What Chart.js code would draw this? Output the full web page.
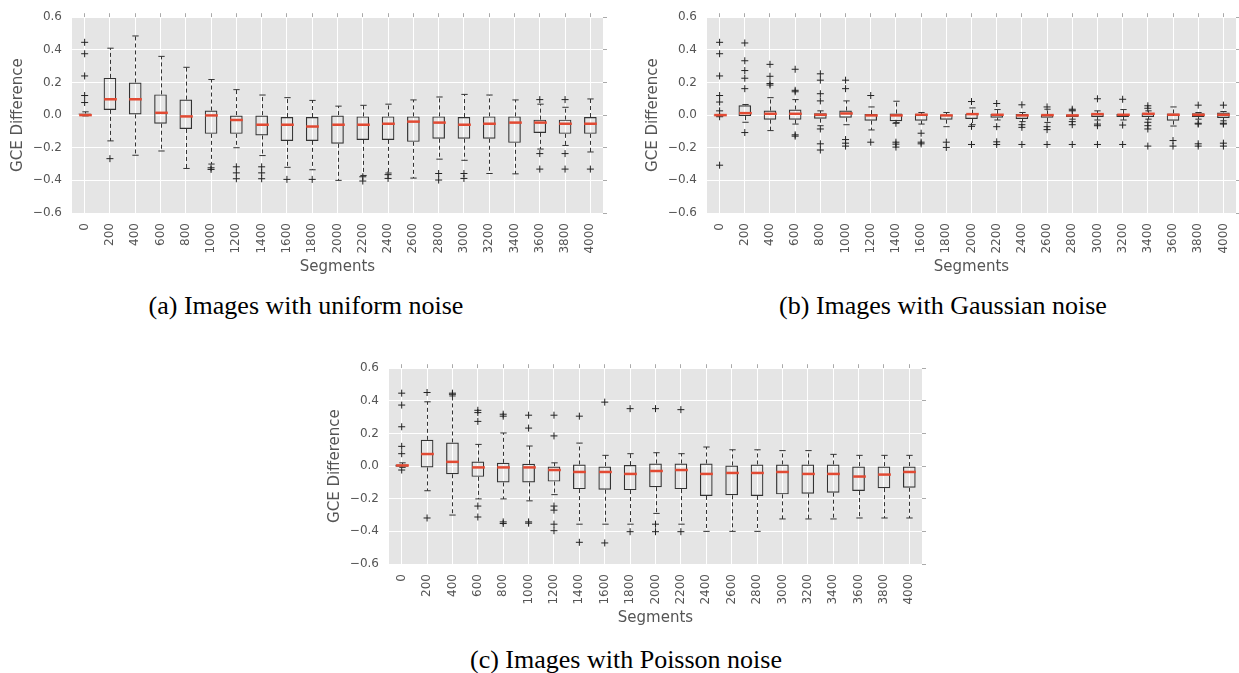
<!DOCTYPE html>
<html>
<head>
<meta charset="utf-8">
<script src="https://cdn.jsdelivr.net/npm/chart.js@4.4.0/dist/chart.umd.min.js"></script>
<style>
  html, body { margin: 0; padding: 0; background: #fff; overflow: hidden; }
  body { width: 1239px; height: 673px; position: relative; }
  canvas { position: absolute; }
  .cap {
    position: absolute;
    font-family: "Liberation Serif", "Times New Roman", serif;
    font-size: 26px;
    line-height: 26px;
    color: #000;
    white-space: nowrap;
    transform: translateX(-50%);
  }
</style>
</head>
<body>
<canvas id="uniform" width="620" height="280" style="left:0px;top:0px"></canvas>
<canvas id="gauss" width="618" height="280" style="left:635px;top:0px"></canvas>
<canvas id="poisson" width="622" height="280" style="left:317px;top:351px"></canvas>
<div class="cap" style="left:306px;top:293px">(a) Images with uniform noise</div>
<div class="cap" style="left:943px;top:293px">(b) Images with Gaussian noise</div>
<div class="cap" style="left:626px;top:647px">(c) Images with Poisson noise</div>
<script>
const segments = ['0','200','400','600','800','1000','1200','1400','1600','1800','2000',
  '2200','2400','2600','2800','3000','3200','3400','3600','3800','4000'];

// (a) uniform noise
const uniformMed = [0.0, 0.097, 0.097, 0.014, -0.008, -0.002, -0.03, -0.059, -0.059, -0.07, -0.059,
  -0.059, -0.053, -0.04, -0.046, -0.059, -0.053, -0.046, -0.046, -0.053, -0.053];
const uniformQ1 = [0.0, 0.032, 0.004, -0.053, -0.085, -0.115, -0.115, -0.125, -0.158, -0.158, -0.176,
  -0.152, -0.152, -0.164, -0.145, -0.145, -0.145, -0.17, -0.109, -0.115, -0.115];
const uniformQ3 = [0.01, 0.228, 0.2, 0.127, 0.095, 0.028, 0.0, 0.0, -0.012, -0.012, 0.0,
  -0.008, -0.008, -0.008, -0.008, -0.012, -0.008, -0.008, -0.028, -0.028, -0.012];
const uniformLo = [-0.005, -0.158, -0.246, -0.22, -0.327, -0.3, -0.2, -0.248, -0.32, -0.335, -0.4,
  -0.37, -0.355, -0.386, -0.27, -0.277, -0.358, -0.36, -0.208, -0.186, -0.226];
const uniformHi = [0.02, 0.41, 0.485, 0.36, 0.293, 0.218, 0.156, 0.123, 0.107, 0.09, 0.055,
  0.06, 0.067, 0.093, 0.111, 0.127, 0.123, 0.093, 0.067, 0.048, 0.099];
const uniformOut = [[0.446, 0.376, 0.24, 0.12, 0.077], [-0.267], [], [], [], [-0.323, -0.333],
  [-0.317, -0.354, -0.39], [-0.317, -0.354, -0.39], [-0.394], [-0.394], [],
  [-0.378, -0.404], [-0.365, -0.388], [], [-0.358, -0.398], [-0.358, -0.388], [], [],
  [0.095, -0.236, -0.331], [0.095, -0.236, -0.331], [-0.331]];

// (b) gaussian noise
const gaussMed = [0.0, 0.012, 0.008, 0.008, 0.002, 0.01, -0.002, -0.002, 0.002, -0.002, 0.006,
  0.002, -0.002, 0.0, -0.002, 0.006, 0.002, 0.008, 0.002, 0.002, 0.002];
const gaussQ1 = [-0.002, -0.006, -0.028, -0.028, -0.022, -0.016, -0.034, -0.038, -0.034, -0.028, -0.024,
  -0.016, -0.024, -0.016, -0.012, -0.012, -0.012, -0.012, -0.034, -0.012, -0.018];
const gaussQ3 = [0.002, 0.06, 0.028, 0.034, 0.012, 0.028, 0.006, 0.01, 0.008, 0.004, 0.008,
  0.006, 0.006, 0.004, 0.004, 0.008, 0.006, 0.012, 0.01, 0.012, 0.016];
const gaussLo = [-0.004, -0.044, -0.095, -0.055, -0.065, -0.059, -0.091, -0.046, -0.055, -0.071, -0.059,
  -0.03, -0.04, -0.045, -0.025, -0.03, -0.03, -0.025, -0.067, -0.025, -0.035];
const gaussHi = [0.004, 0.065, 0.107, 0.095, 0.026, 0.087, 0.05, 0.085, 0.016, 0.016, 0.044,
  0.034, 0.016, 0.036, 0.03, 0.026, 0.034, 0.026, 0.05, 0.016, 0.022];
const gaussOut = [[0.446, 0.376, 0.24, 0.12, 0.08, 0.026, -0.01, -0.307],
  [0.442, 0.333, 0.273, 0.226, 0.162, -0.107], [0.311, 0.238, 0.194, 0.184],
  [0.281, 0.152, 0.143, -0.121, -0.129], [0.253, 0.214, 0.131, 0.087, -0.085, -0.176, -0.214],
  [0.214, 0.162, -0.15, -0.172, -0.19], [0.12, -0.166], [-0.05, -0.166, -0.178, -0.196],
  [-0.111, -0.166, -0.176], [-0.166, -0.198], [0.083, -0.069, -0.18],
  [0.071, -0.071, -0.164, -0.18], [0.063, -0.059, -0.075, -0.18], [0.05, -0.071, -0.089, -0.18],
  [0.036, 0.026, -0.04, -0.059, -0.18], [0.1, -0.055, -0.065, -0.18], [0.097, -0.061, -0.18],
  [0.057, 0.042, -0.044, -0.065, -0.085, -0.19], [-0.156, -0.19],
  [0.061, -0.05, -0.055, -0.176, -0.19], [0.061, -0.05, -0.055, -0.172, -0.19]];

// (c) poisson noise
const poisMed = [0.004, 0.074, 0.026, -0.008, -0.008, -0.008, -0.024, -0.036, -0.036, -0.048, -0.03,
  -0.024, -0.048, -0.042, -0.042, -0.036, -0.048, -0.048, -0.064, -0.052, -0.036];
const poisQ1 = [-0.004, -0.008, -0.05, -0.066, -0.1, -0.1, -0.095, -0.141, -0.145, -0.147, -0.129,
  -0.141, -0.183, -0.179, -0.183, -0.173, -0.169, -0.163, -0.153, -0.135, -0.133];
const poisQ3 = [0.01, 0.161, 0.145, 0.028, 0.02, 0.014, 0.0, 0.01, 0.0, 0.006, 0.016,
  0.016, 0.016, 0.004, 0.01, 0.01, 0.01, 0.01, 0.0, 0.0, 0.0];
const poisLo = [-0.008, -0.151, -0.3, -0.201, -0.201, -0.213, -0.175, -0.356, -0.356, -0.356, -0.29,
  -0.356, -0.4, -0.4, -0.4, -0.324, -0.324, -0.324, -0.318, -0.318, -0.318];
const poisHi = [0.02, 0.394, 0.43, 0.133, 0.203, 0.123, 0.02, 0.141, 0.066, 0.076, 0.082,
  0.076, 0.117, 0.1, 0.1, 0.095, 0.095, 0.072, 0.066, 0.066, 0.066];
const poisOut = [[0.447, 0.374, 0.241, 0.121, 0.076, -0.024], [0.451, -0.318], [0.44, 0.447],
  [0.342, 0.328, 0.274, -0.245, -0.312], [0.318, 0.306, -0.342, -0.352],
  [0.312, 0.233, -0.342, -0.35], [0.312, 0.185, -0.245, -0.27, -0.356, -0.396],
  [0.306, -0.467], [0.392, -0.471], [0.352, -0.402], [0.352, -0.356, -0.402], [0.346, -0.402],
  [], [], [], [], [], [], [], [], []];

Chart.defaults.font.family = '"DejaVu Sans", sans-serif';
Chart.defaults.color = '#555';

function fmt(v) {
  if (Math.abs(v) < 1e-9) return '0.0';
  const s = Math.abs(v).toFixed(1);
  return v < 0 ? '\u2212' + s : s;
}

// gray panel behind the grid
const panelBg = {
  id: 'panelBg',
  beforeDraw(chart) {
    const a = chart.chartArea, ctx = chart.ctx;
    ctx.save();
    ctx.fillStyle = '#E5E5E5';
    ctx.fillRect(a.left, a.top, a.right - a.left, a.bottom - a.top);
    ctx.restore();
  }
};

function makePanel(id, med, q1, q3, lo, hi, out) {
  const outliers = [];
  out.forEach((vals, i) => vals.forEach(v => outliers.push({x: segments[i], y: v})));

  // whiskers, caps and red medians, placed with the chart's scales
  const whiskers = {
    id: 'whiskers',
    afterDatasetsDraw(chart) {
      const ctx = chart.ctx, xs = chart.scales.x, ys = chart.scales.y;
      const bars = chart.getDatasetMeta(0).data;
      ctx.save();
      segments.forEach((s, i) => {
        const x = Math.round(xs.getPixelForValue(i)) + 0.5;
        const half = bars[i].width / 2;
        const yq1 = ys.getPixelForValue(q1[i]), yq3 = ys.getPixelForValue(q3[i]);
        const ylo = ys.getPixelForValue(lo[i]), yhi = ys.getPixelForValue(hi[i]);
        ctx.strokeStyle = '#333';
        ctx.lineWidth = 1;
        ctx.setLineDash([4, 3]);
        ctx.beginPath();
        ctx.moveTo(x, yq3); ctx.lineTo(x, yhi);
        ctx.moveTo(x, yq1); ctx.lineTo(x, ylo);
        ctx.stroke();
        ctx.setLineDash([]);
        ctx.beginPath();
        ctx.moveTo(x - half / 2, yhi); ctx.lineTo(x + half / 2, yhi);
        ctx.moveTo(x - half / 2, ylo); ctx.lineTo(x + half / 2, ylo);
        ctx.stroke();
        const ym = ys.getPixelForValue(med[i]);
        ctx.strokeStyle = '#E24A33';
        ctx.lineWidth = 2.5;
        ctx.beginPath();
        ctx.moveTo(x - half, ym); ctx.lineTo(x + half, ym);
        ctx.stroke();
      });
      ctx.restore();
    }
  };

  return new Chart(document.getElementById(id), {
    type: 'bar',
    data: {
      labels: segments,
      datasets: [{
        data: q1.map((v, i) => [v, q3[i]]),
        backgroundColor: 'rgba(0,0,0,0)',
        borderColor: '#333',
        borderWidth: 1.2,
        borderSkipped: false,
        barPercentage: 0.5,
        categoryPercentage: 1
      }, {
        type: 'line',
        data: outliers,
        showLine: false,
        pointStyle: 'cross',
        pointRadius: 3.5,
        pointBorderWidth: 1,
        borderColor: '#222',
        backgroundColor: '#222'
      }]
    },
    options: {
      responsive: false,
      animation: false,
      layout: {padding: {left: 0, top: 10, right: 12, bottom: 0}},
      plugins: {legend: {display: false}, tooltip: {enabled: false}},
      scales: {
        x: {
          type: 'category',
          offset: true,
          border: {display: false},
          grid: {color: '#fff', lineWidth: 1, offset: false, drawTicks: false},
          ticks: {color: '#555', font: {size: 12}, minRotation: 90, maxRotation: 90,
            padding: 10, autoSkip: false},
          title: {display: true, text: 'Segments', color: '#555', font: {size: 15},
            padding: {top: 0, bottom: 4}},
          afterFit: s => { s.height = 67; }
        },
        x2: {
          type: 'category',
          position: 'top',
          labels: segments,
          offset: true,
          border: {display: false},
          grid: {display: true, drawOnChartArea: false, offset: false, tickLength: 4, tickColor: '#aaa'},
          ticks: {display: false},
          afterFit: s => { s.height = 5; }
        },
        y: {
          min: -0.6, max: 0.6,
          border: {display: false},
          grid: {color: '#fff', lineWidth: 1, drawTicks: false},
          ticks: {stepSize: 0.2, color: '#555', font: {size: 12}, padding: 10, callback: fmt},
          title: {display: true, text: 'GCE Difference', color: '#555', font: {size: 15},
            padding: {top: 9}},
          afterFit: s => { s.width = 72; }
        },
        y2: {
          position: 'right',
          min: -0.6, max: 0.6,
          border: {display: false},
          grid: {display: true, drawOnChartArea: false, tickLength: 4, tickColor: '#aaa'},
          ticks: {display: false, stepSize: 0.2},
          afterFit: s => { s.width = 5; }
        }
      }
    },
    plugins: [panelBg, whiskers]
  });
}

makePanel('uniform', uniformMed, uniformQ1, uniformQ3, uniformLo, uniformHi, uniformOut);
makePanel('gauss', gaussMed, gaussQ1, gaussQ3, gaussLo, gaussHi, gaussOut);
makePanel('poisson', poisMed, poisQ1, poisQ3, poisLo, poisHi, poisOut);
</script>
</body>
</html>
